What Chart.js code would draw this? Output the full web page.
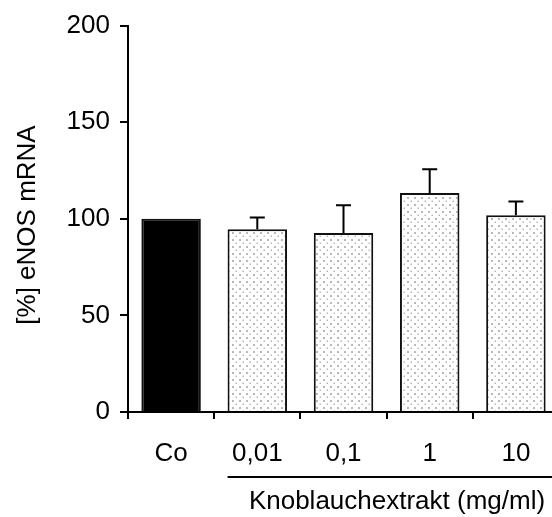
<!DOCTYPE html>
<html>
<head>
<meta charset="utf-8">
<script src="https://cdn.jsdelivr.net/npm/chart.js@4/dist/chart.umd.min.js"></script>
<style>
html,body{margin:0;padding:0;background:#fff;overflow:hidden;width:552px;height:517px;}
#wrap{width:552px;height:517px;overflow:hidden;position:relative;}
canvas{display:block;}
</style>
</head>
<body>
<div id="wrap"><canvas id="c" width="559" height="517"></canvas></div>
<script>
// ---- data ----
const categories = ['Co', '0,01', '0,1', '1', '10'];
const values = [100, 94.6, 92.7, 113.3, 101.8];
const errors = [0, 6.1, 14.3, 12.3, 7.2];
const yTicks = [0, 50, 100, 150, 200];
const yTitle = '[%] eNOS mRNA';
const xTitle = 'Knoblauchextrakt (mg/ml)';

const FONT = '"Liberation Sans", Arial, Helvetica, sans-serif';
const FS = 26;

// dotted pattern
function makePattern() {
  const p = document.createElement('canvas');
  p.width = 7; p.height = 7;
  const g = p.getContext('2d');
  g.fillStyle = '#ffffff';
  g.fillRect(0, 0, 7, 7);
  g.fillStyle = '#b8b8b8';
  g.fillRect(1, 1, 2, 2);
  g.fillRect(4.5, 4.5, 1.5, 1.5);
  return document.getElementById('c').getContext('2d').createPattern(p, 'repeat');
}
const pat = makePattern();

const errorBars = {
  id: 'errorBars',
  afterDatasetsDraw(chart) {
    const ctx = chart.ctx;
    const meta = chart.getDatasetMeta(0);
    const ys = chart.scales.y;
    ctx.save();
    ctx.strokeStyle = '#000';
    ctx.lineWidth = 2;
    meta.data.forEach((bar, i) => {
      if (!errors[i]) return;
      const x = bar.x;
      const y0 = ys.getPixelForValue(values[i]);
      const y1 = ys.getPixelForValue(values[i] + errors[i]);
      ctx.beginPath();
      ctx.moveTo(x, y0);
      ctx.lineTo(x, y1);
      ctx.moveTo(x - 7.5, y1);
      ctx.lineTo(x + 7.5, y1);
      ctx.stroke();
    });
    ctx.restore();
  }
};

const titles = {
  id: 'titles',
  afterDraw(chart) {
    const ctx = chart.ctx;
    const meta = chart.getDatasetMeta(0);
    ctx.save();
    ctx.fillStyle = '#000';
    ctx.font = FS + 'px ' + FONT;
    // y title
    ctx.save();
    ctx.translate(35, 225);
    ctx.rotate(-Math.PI / 2);
    ctx.textAlign = 'center';
    ctx.textBaseline = 'alphabetic';
    ctx.fillText(yTitle, 0, 0);
    ctx.restore();
    // underline across treated groups
    const b = meta.data[1];
    const left = b.x - b.width / 2;
    ctx.strokeStyle = '#000';
    ctx.lineWidth = 2;
    ctx.beginPath();
    ctx.moveTo(left, 477);
    ctx.lineTo(chart.width, 477);
    ctx.stroke();
    // x title
    ctx.textAlign = 'center';
    ctx.textBaseline = 'alphabetic';
    ctx.fillText(xTitle, 397, 509);
    ctx.restore();
  }
};

new Chart(document.getElementById('c'), {
  type: 'bar',
  data: {
    labels: categories,
    datasets: [{
      data: values,
      backgroundColor: ['#000000', pat, pat, pat, pat],
      borderColor: '#111111',
      borderWidth: 2,
      borderSkipped: 'start',
      categoryPercentage: 1,
      barPercentage: 0.69
    }]
  },
  options: {
    responsive: false,
    animation: false,
    devicePixelRatio: 1,
    layout: { padding: { top: 25, left: 0, right: 0, bottom: 0 } },
    plugins: { legend: { display: false }, tooltip: { enabled: false } },
    scales: {
      x: {
        afterFit(s) { s.height = 105; },
        grid: { drawOnChartArea: false, drawTicks: true, tickLength: 7, color: '#000', lineWidth: 2, offset: true },
        border: { display: true, color: '#000', width: 2 },
        ticks: { color: '#000', font: { family: FONT, size: FS }, padding: 19, maxRotation: 0 }
      },
      y: {
        min: 0, max: 200,
        afterFit(s) { s.width = 128; },
        afterBuildTicks(s) { s.ticks = yTicks.map(v => ({ value: v })); },
        grid: { drawOnChartArea: false, drawTicks: true, tickLength: 8, color: '#000', lineWidth: 2 },
        border: { display: true, color: '#000', width: 2 },
        ticks: { color: '#000', font: { family: FONT, size: FS }, padding: 10 }
      }
    }
  },
  plugins: [errorBars, titles]
});
</script>
</body>
</html>
